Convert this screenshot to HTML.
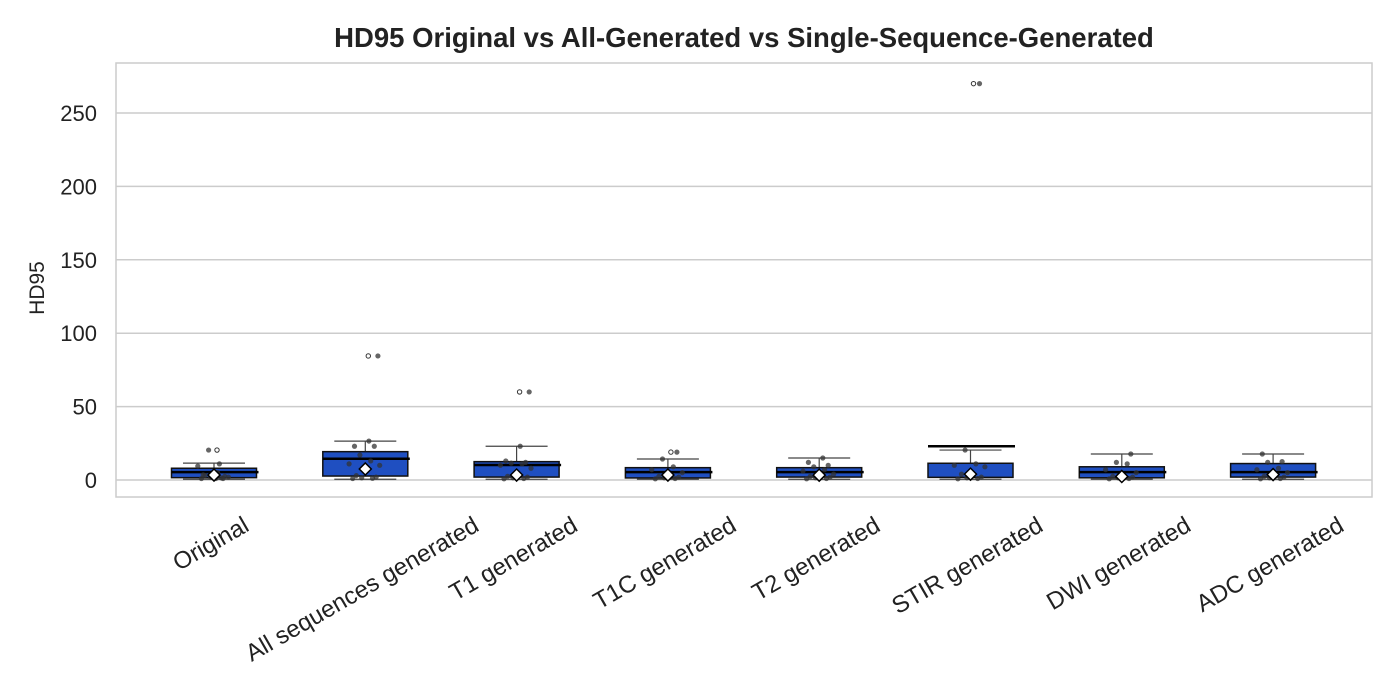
<!DOCTYPE html>
<html><head><meta charset="utf-8">
<style>
html,body{margin:0;padding:0;background:#fff;}
svg{display:block;font-family:"Liberation Sans","DejaVu Sans",sans-serif;}
</style></head>
<body>
<svg id="chart" width="1400" height="700" viewBox="0 0 1400 700">
<text x="744" y="47" text-anchor="middle" font-size="27.5" font-weight="bold" fill="#222">HD95 Original vs All-Generated vs Single-Sequence-Generated</text>
<text transform="translate(44,288) rotate(-90)" text-anchor="middle" font-size="21" fill="#222">HD95</text>
<g id="grid"></g>
<g id="yticks"></g>
<g id="boxes"></g>
<g id="xticks"></g>
<rect x="116" y="63" width="1256" height="434" fill="none" stroke="#ccc" stroke-width="1.5"/>
</svg>
<script>
const categories=["Original","All sequences generated","T1 generated","T1C generated","T2 generated","STIR generated","DWI generated","ADC generated"];
const q1=[1.6,2.7,2,1.4,2,1.8,1.5,2];
const q3=[8,19.3,12.5,8.4,8.4,11.4,9,11.2];
const medians=[5.4,14.5,10.2,5.4,5.4,23,5.4,5.4];
const whiskLo=[0.5,0.5,0.5,0.5,0.5,0.5,0.5,0.5];
const whiskHi=[11.5,26.5,23,14.3,15,20.4,17.7,17.7];
const means=[3.4,7.5,3.4,3.4,3.3,4,2.4,3.7];
const outliers=[[20.4],[84.5],[60],[19],[],[270],[],[]];
const points=[
[1,1.5,2,2.5,3,1,2,9.5,11,20.4,1,3.5,5],
[1,1.2,1.5,2,3,8,10,11,13,17,23,23,26.5,84.5],
[0.8,1,1.5,2,2.5,3,8,10,11,11.5,12,13,23,60],
[0.8,1,1.5,2,2.5,3.5,5,7,9,14.3,19],
[0.8,1,1.5,2,2.5,3,4,6,7,9,10,12,15],
[0.8,1,1.5,2,4,5,9,10,11,20.4,270],
[0.8,1,1.5,2,2.5,3,5,7,11,12,17.7],
[0.8,1,1.5,2,2.5,3,5,7,8,12,12.5,17.7]
];
const yTicks=[0,50,100,150,200,250];
const NS="http://www.w3.org/2000/svg";
const y=v=>480-v*1.468;
const x=i=>214+i*151.3;
const BW=85;
function mk(tag,attrs,parent){const e=document.createElementNS(NS,tag);for(const k in attrs)e.setAttribute(k,attrs[k]);parent.appendChild(e);return e;}
const grid=document.getElementById('grid'),yt=document.getElementById('yticks'),bx=document.getElementById('boxes'),xt=document.getElementById('xticks');
yTicks.forEach(t=>{
  const l=mk('line',{x1:116,x2:1372,y1:y(t),y2:y(t),stroke:'#ccc','stroke-width':1.5},grid);
  
  
  const tx=mk('text',{x:97,y:y(t)+8,'text-anchor':'end','font-size':22,fill:'#222'},yt);
  tx.textContent=t;
  
  
});
const jit=[-14,8,-4,12,-10,2,16,-18,6,-6,10,-12,4,14];
categories.forEach((c,i)=>{
  const cx=x(i);
  const g=mk('g',{},bx);
  
  
  mk('line',{x1:cx,x2:cx,y1:y(q3[i]),y2:y(whiskHi[i]),stroke:'#444','stroke-width':1.2},g);
  mk('line',{x1:cx-31,x2:cx+31,y1:y(whiskHi[i]),y2:y(whiskHi[i]),stroke:'#444','stroke-width':1.2},g);
  mk('line',{x1:cx-31,x2:cx+31,y1:y(whiskLo[i]),y2:y(whiskLo[i]),stroke:'#444','stroke-width':1.2},g);
  mk('rect',{x:cx-BW/2,y:y(q3[i]),width:BW,height:y(q1[i])-y(q3[i]),fill:'#1f4fc1',stroke:'#111','stroke-width':1.5},g);
  mk('line',{x1:cx-BW/2,x2:cx+BW/2+2,y1:y(medians[i]),y2:y(medians[i]),stroke:'#000','stroke-width':2.5},g);
  points[i].forEach((p,k)=>{
    mk('circle',{cx:cx+jit[k%jit.length]*0.9,cy:y(p),r:2.6,fill:'#333','fill-opacity':0.75},g);
  });
  outliers[i].forEach(o=>{
    mk('circle',{cx:cx+3,cy:y(o),r:2.2,fill:'#fff',stroke:'#333','stroke-width':1},g);
  });
  const m=y(means[i]);
  mk('polygon',{points:`${cx},${m-6} ${cx+6},${m} ${cx},${m+6} ${cx-6},${m}`,fill:'#fff',stroke:'#000','stroke-width':1.5},g);
  const t=mk('text',{'font-size':24,fill:'#222','text-anchor':'middle','dominant-baseline':'central'},xt);
  t.textContent=c;
  
  
  const w=t.getComputedTextLength();
  const tcx=cx-3;
  const cy=513+(w*0.5+24*0.866)/2;
  t.setAttribute('x',tcx);t.setAttribute('y',cy);
  t.setAttribute('transform',`rotate(-30 ${tcx} ${cy})`);
});
</script>
</body></html>
